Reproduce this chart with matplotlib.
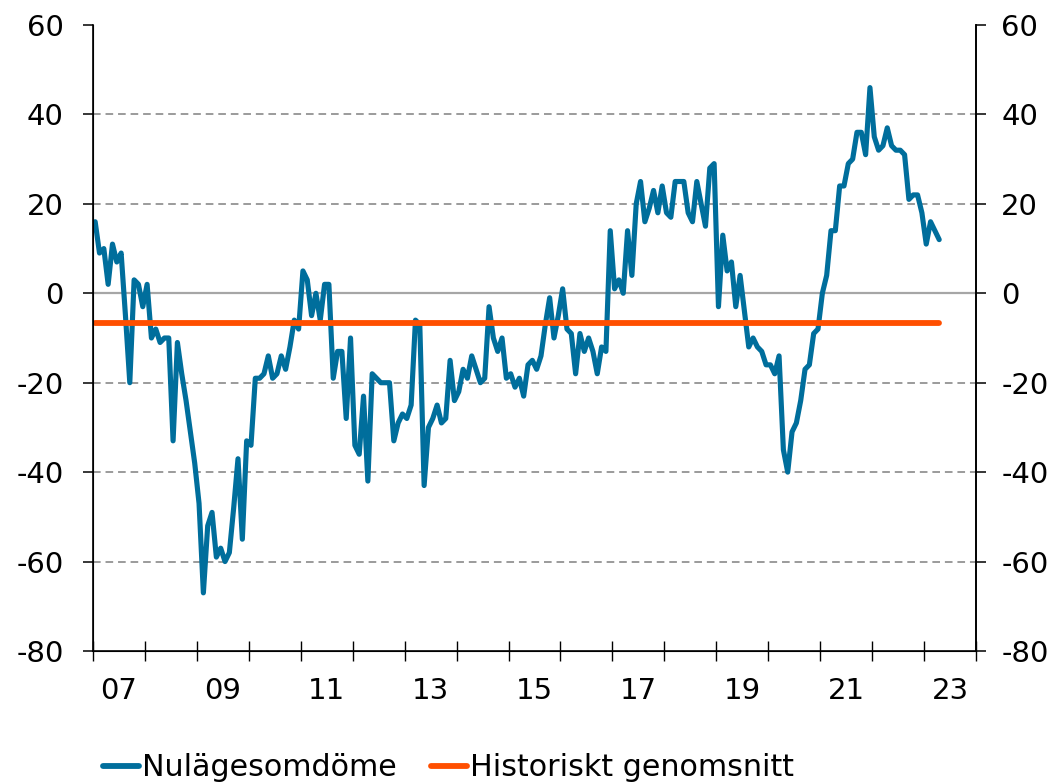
import matplotlib
matplotlib.use("Agg")
import matplotlib.pyplot as plt
from matplotlib.lines import Line2D
import numpy as np
import pandas as pd

plt.rcParams["font.family"] = ["DejaVu Sans"]
plt.rcParams["axes.unicode_minus"] = False

# Monthly observations, Jan 2007 - Apr 2023
months = pd.period_range("2007-01", "2023-04", freq="M")
nulage = [
    16, 9, 10, 2, 11, 7, 9, -5, -20, 3, 2, -3,                 # 2007
    2, -10, -8, -11, -10, -10, -33, -11, -18, -24, -31, -38,   # 2008
    -47, -67, -52, -49, -59, -57, -60, -58, -48, -37, -55, -33,  # 2009
    -34, -19, -19, -18, -14, -19, -18, -14, -17, -12, -6, -8,  # 2010
    5, 3, -5, 0, -6, 2, 2, -19, -13, -13, -28, -10,            # 2011
    -34, -36, -23, -42, -18, -19, -20, -20, -20, -33, -29, -27,  # 2012
    -28, -25, -6, -7, -43, -30, -28, -25, -29, -28, -15, -24,  # 2013
    -22, -17, -19, -14, -17, -20, -19, -3, -10, -13, -10, -19,  # 2014
    -18, -21, -19, -23, -16, -15, -17, -14, -7, -1, -10, -5,   # 2015
    1, -8, -9, -18, -9, -13, -10, -13, -18, -12, -13, 14,      # 2016
    1, 3, 0, 14, 4, 20, 25, 16, 19, 23, 18, 24,                # 2017
    18, 17, 25, 25, 25, 18, 16, 25, 20, 15, 28, 29,            # 2018
    -3, 13, 5, 7, -3, 4, -4, -12, -10, -12, -13, -16,          # 2019
    -16, -18, -14, -35, -40, -31, -29, -24, -17, -16, -9, -8,  # 2020
    0, 4, 14, 14, 24, 24, 29, 30, 36, 36, 31, 46,              # 2021
    35, 32, 33, 37, 33, 32, 32, 31, 21, 22, 22, 18,            # 2022
    11, 16, 14, 12,                                            # 2023
]
hist_avg = -6.7

year_ticks = list(range(2007, 2025))
label_years = list(range(2007, 2024, 2))
y_ticks = [-80, -60, -40, -20, 0, 20, 40, 60]
grid_levels = [-60, -40, -20, 20, 40]

BLUE = "#006E9C"
ORANGE = "#FF4F00"

# x position in months since Jan 2007, centred in each month
x = (months.year - 2007) * 12 + months.month - 0.5

fig = plt.figure(figsize=(10.61, 7.83), dpi=100)
ax = fig.add_axes([93 / 1061, 132 / 783, 883 / 1061, 626 / 783])

for lvl in grid_levels:
    ax.axhline(lvl, color="#808080", lw=1.1, dashes=(5, 3.2), zorder=1)
ax.axhline(0, color="#A6A6A6", lw=1.6, zorder=2)

ax.plot(x, nulage, color=BLUE, lw=3.7, solid_joinstyle="round",
        solid_capstyle="round", zorder=3)
ax.plot([x[0], x[-1]], [hist_avg, hist_avg], color=ORANGE, lw=4.2,
        solid_capstyle="round", zorder=4)

ax.set_xlim(0, (year_ticks[-1] - 2007) * 12)
ax.set_ylim(-80, 60)

ax.spines["top"].set_visible(False)
for side in ("left", "right", "bottom"):
    ax.spines[side].set_linewidth(1.2)

# year boundaries as tick marks, two-digit labels centred on odd years
ax.set_xticks([(y - 2007) * 12 for y in year_ticks])
ax.set_xticklabels([])
ax.set_xticks([(y - 2007) * 12 + 6 for y in label_years], minor=True)
ax.set_xticklabels([f"{y % 100:02d}" for y in label_years], minor=True)
ax.tick_params(axis="x", which="major", direction="inout", length=14.4, width=1.0)
ax.tick_params(axis="x", which="minor", length=0, pad=19, labelsize=21)

ax.set_yticks(y_ticks)
ax.tick_params(axis="y", direction="out", length=7.2, width=1.1, pad=14, labelsize=21)

ax2 = ax.twinx()
ax2.set_ylim(ax.get_ylim())
ax2.set_yticks(y_ticks)
ax2.spines["top"].set_visible(False)
ax2.spines["right"].set_linewidth(1.2)
ax2.tick_params(axis="y", direction="out", length=7.2, width=1.1, pad=11, labelsize=21)

handles = [Line2D([], [], color=BLUE, lw=4.2, solid_capstyle="round"),
           Line2D([], [], color=ORANGE, lw=4.2, solid_capstyle="round")]
fig.legend(handles, ["Nulägesomdöme", "Historiskt genomsnitt"],
           loc="center left", bbox_to_anchor=(103 / 1061, 1 - 768 / 783),
           ncol=2, frameon=False, fontsize=21.7, handlelength=1.2,
           handletextpad=0.08, columnspacing=1.15, borderpad=0, borderaxespad=0)

fig.savefig("out.png", dpi=100)
